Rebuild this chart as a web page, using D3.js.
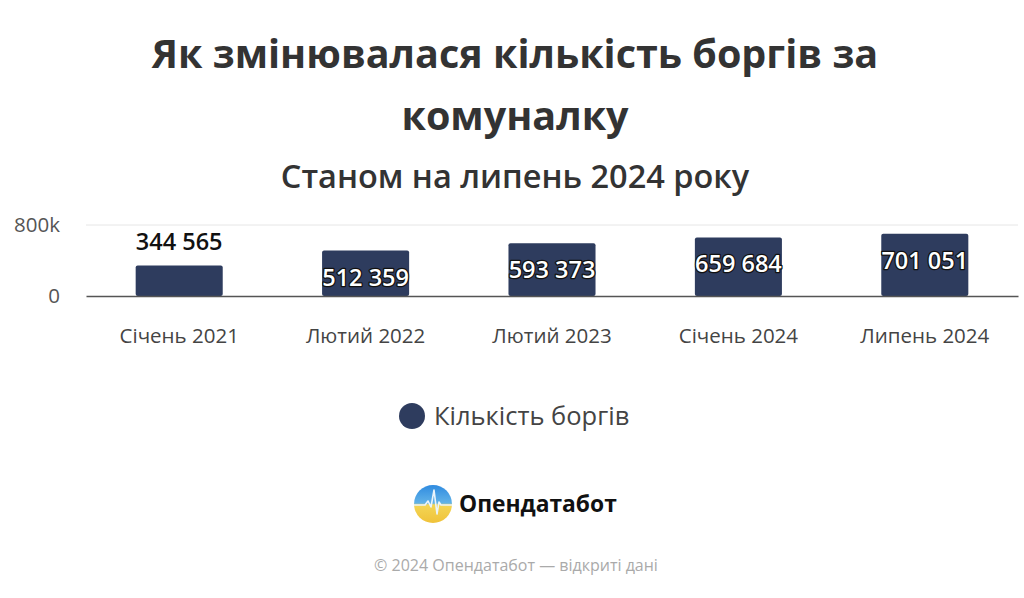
<!DOCTYPE html>
<html>
<head>
<meta charset="utf-8">
<script src="https://cdn.jsdelivr.net/npm/d3@7"></script>
<style>
  html, body { margin: 0; padding: 0; background: #fff; }
  svg { display: block; font-family: "Open Sans", "Noto Sans", sans-serif; }
</style>
</head>
<body>
<svg id="chart" width="1024" height="598"></svg>
<script>
// chart data
const categories = ["Січень 2021", "Лютий 2022", "Лютий 2023", "Січень 2024", "Липень 2024"];
const debts = [344565, 512359, 593373, 659684, 701051];
const yTicks = [0, 800000];
const yTickLabels = ["0", "800k"];
const seriesName = "Кількість боргів";

const barColor = "#2e3c5e";
const svg = d3.select("#chart");

// titles
const title = svg.append("text")
  .attr("text-anchor", "middle")
  .attr("fill", "#333")
  .attr("font-size", 39.5)
  .attr("font-weight", 700);
title.append("tspan").attr("x", 515).attr("y", 68).text("Як змінювалася кількість боргів за");
title.append("tspan").attr("x", 515).attr("y", 130).text("комуналку");

svg.append("text")
  .attr("x", 515).attr("y", 188)
  .attr("text-anchor", "middle")
  .attr("fill", "#333")
  .attr("font-size", 32.5)
  .attr("font-weight", 600)
  .text("Станом на липень 2024 року");

// scales
const x = d3.scaleBand()
  .domain(categories)
  .range([86, 1018])
  .paddingInner(0.533)
  .paddingOuter(0.2665);

const y = d3.scaleLinear()
  .domain([0, 800000])
  .range([296, 225]);

// gridlines
svg.append("g")
  .selectAll("line")
  .data(yTicks.filter(d => d > 0))
  .join("line")
  .attr("x1", 86).attr("x2", 1018)
  .attr("y1", d => y(d)).attr("y2", d => y(d))
  .attr("stroke", "#e6e6e6")
  .attr("stroke-width", 1);

// y axis labels
const yAxis = svg.append("g")
  .attr("transform", "translate(60,0)")
  .call(d3.axisLeft(y).tickValues(yTicks).tickSize(0).tickPadding(0)
    .tickFormat((d, i) => yTickLabels[i]));
yAxis.select(".domain").remove();
yAxis.selectAll("text")
  .attr("font-family", "Open Sans, Noto Sans, sans-serif")
  .attr("font-size", 20.5)
  .attr("fill", "#555");

// bars
svg.append("g")
  .selectAll("rect")
  .data(debts)
  .join("rect")
  .attr("x", (d, i) => x(categories[i]))
  .attr("y", d => y(d))
  .attr("width", x.bandwidth())
  .attr("height", d => y(0) - y(d))
  .attr("rx", 2)
  .attr("fill", barColor);

// baseline + x axis labels
const xAxis = svg.append("g")
  .attr("transform", `translate(0,${y(0)})`)
  .call(d3.axisBottom(x).tickSize(0).tickPadding(32));
xAxis.select(".domain").attr("stroke", "#555").attr("stroke-width", 1.5);
xAxis.selectAll("text")
  .attr("font-family", "Open Sans, Noto Sans, sans-serif")
  .attr("font-size", 20.5)
  .attr("fill", "#444");

// data labels
const fmt = v => d3.format(",")(v).replace(/,/g, " ");
svg.append("g")
  .selectAll("text")
  .data(debts)
  .join("text")
  .attr("x", (d, i) => x(categories[i]) + x.bandwidth() / 2)
  .attr("y", (d, i) => i === 0 ? y(d) - 15 : y(d) + 35)
  .attr("text-anchor", "middle")
  .attr("font-size", 23.5)
  .attr("font-weight", 600)
  .attr("fill", (d, i) => i === 0 ? "#111" : "#fff")
  .attr("stroke", (d, i) => i === 0 ? "#fff" : "#111")
  .attr("stroke-width", 2.5)
  .attr("stroke-linejoin", "round")
  .attr("paint-order", "stroke")
  .text(fmt);

// legend
const legend = svg.append("g").attr("transform", "translate(412,416)");
legend.append("circle").attr("r", 13).attr("fill", barColor);
legend.append("text")
  .attr("x", 22).attr("y", 9)
  .attr("font-size", 25.5)
  .attr("fill", "#444")
  .text(seriesName);

// logo
const defs = svg.append("defs");
const grad = defs.append("linearGradient")
  .attr("id", "logoGrad").attr("x1", 0).attr("y1", 0).attr("x2", 0).attr("y2", 1);
grad.append("stop").attr("offset", "0%").attr("stop-color", "#2f8be0");
grad.append("stop").attr("offset", "48%").attr("stop-color", "#62b3e8");
grad.append("stop").attr("offset", "52%").attr("stop-color", "#f3d655");
grad.append("stop").attr("offset", "100%").attr("stop-color", "#f0c23a");

const logo = svg.append("g").attr("transform", "translate(433,504)");
logo.append("circle").attr("r", 19).attr("fill", "url(#logoGrad)");
logo.append("path")
  .attr("d", "M-19,1 L-8,1 L-5,-3 L-2,3 L1,-14 L4,10 L6,-2 L8,1 L19,1")
  .attr("fill", "none")
  .attr("stroke", "#eaf4fb")
  .attr("stroke-width", 1.6)
  .attr("stroke-linejoin", "round");
svg.append("text")
  .attr("x", 459).attr("y", 512)
  .attr("font-size", 22.8)
  .attr("font-weight", 700)
  .attr("fill", "#111")
  .text("Опендатабот");

// footer
svg.append("text")
  .attr("x", 516).attr("y", 571)
  .attr("text-anchor", "middle")
  .attr("font-size", 16)
  .attr("fill", "#aaa")
  .text("© 2024 Опендатабот — відкриті дані");
</script>
</body>
</html>
